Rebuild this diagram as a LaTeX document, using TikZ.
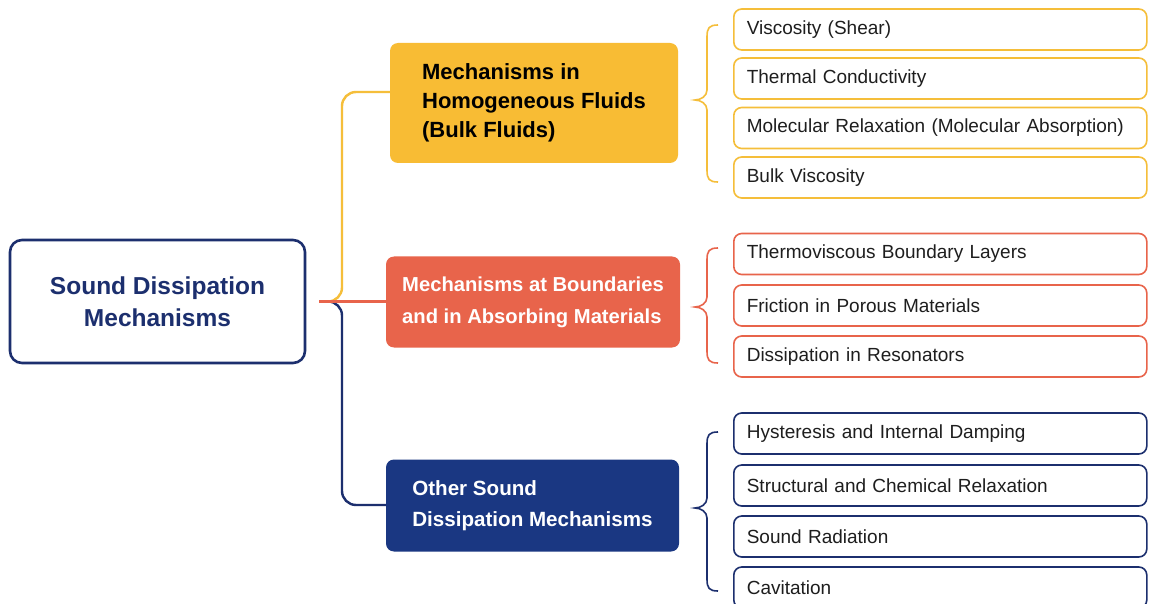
\documentclass[tikz,border=0pt]{standalone}
\usepackage{fontspec}
\setmainfont{Liberation Sans}
\definecolor{ylw}{HTML}{F8BC34}
\definecolor{ylwline}{HTML}{F5BE3A}
\definecolor{org}{HTML}{E8644B}
\definecolor{nvy}{HTML}{1A3782}
\definecolor{nvyline}{HTML}{1C2F6E}
\definecolor{leaftxt}{HTML}{1E1E1E}
\begin{document}
\begin{tikzpicture}[x=1pt,y=-1pt,
  root/.style={draw=nvyline, line width=2.6pt, rounded corners=12pt, fill=white,
    minimum width=295pt, minimum height=123pt, align=center, text=nvyline,
    font=\fontsize{24.5}{32}\selectfont\bfseries},
  grp/.style={rounded corners=8pt, align=left, inner sep=0pt},
  leaf/.style={draw, line width=1.6pt, rounded corners=8pt, fill=white, anchor=west,
    minimum width=413pt, minimum height=41pt, text width=387pt, inner xsep=12pt,
    align=left, text=leaftxt, font=\fontsize{19}{21}\selectfont},
  conn/.style={line width=2.4pt, rounded corners=14pt},
  brc/.style={line width=1.6pt}
]
\useasboundingbox (0,0) rectangle (1149,604);
\fill[white] (0,0) rectangle (1149,604);

% root
\node[root] (root) at (157.5,301.5) {Sound Dissipation\\Mechanisms};

% groups
\node[grp, fill=ylw, minimum width=288pt, minimum height=120pt, text=black,
  font=\fontsize{22}{29}\selectfont\bfseries] (g1) at (534,103)
  {Mechanisms in\\Homogeneous Fluids\\(Bulk Fluids)};
\node[grp, fill=org, minimum width=294pt, minimum height=91pt, text=white,
  font=\fontsize{20.2}{32}\selectfont\bfseries] (g2) at (533,302)
  {Mechanisms at Boundaries\\and in Absorbing Materials};
\node[grp, fill=nvy, minimum width=293pt, minimum height=92pt, text=white,
  font=\fontsize{20.6}{31}\selectfont\bfseries] (g3) at (532.5,505.5)
  {Other Sound\\Dissipation Mechanisms};

% connectors
\draw[conn, ylwline] (root.east) ++(13,0) -- (342,301.5) -- (342,92) -- (g1.west |- 0,92);
\draw[conn, nvyline] (root.east) ++(13,0) -- (342,301.5) -- (342,505) -- (g3.west |- 0,505);
\draw[line width=2.4pt, org] (root.east) ++(13,0) -- (g2.west |- 0,301.5);

% leaves
\node[leaf, draw=ylwline] (l11) at (733,29.5) {Viscosity (Shear)};
\node[leaf, draw=ylwline] (l12) at (733,78.5) {Thermal Conductivity};
\node[leaf, draw=ylwline] (l13) at (733,128) {Molecular Relaxation (Molecular Absorption)};
\node[leaf, draw=ylwline] (l14) at (733,177.5) {Bulk Viscosity};

\node[leaf, draw=org] (l21) at (733,254) {Thermoviscous Boundary Layers};
\node[leaf, draw=org] (l22) at (733,305.5) {Friction in Porous Materials};
\node[leaf, draw=org] (l23) at (733,356.5) {Dissipation in Resonators};

\node[leaf, draw=nvyline] (l31) at (733,433.5) {Hysteresis and Internal Damping};
\node[leaf, draw=nvyline] (l32) at (733,485.5) {Structural and Chemical Relaxation};
\node[leaf, draw=nvyline] (l33) at (733,536.5) {Sound Radiation};
\node[leaf, draw=nvyline] (l34) at (733,587.5) {Cavitation};

% braces
\newcommand{\mybrace}[4]{% color, top, mid, bottom
  \draw[brc, #1] (718,#2) .. controls (709,#2) and (707,#2+3) .. (707,#2+12)
    -- (707,#3-10) .. controls (707,#3-4) and (701,#3) .. (695,#3)
    .. controls (701,#3) and (707,#3+4) .. (707,#3+10)
    -- (707,#4-12) .. controls (707,#4-3) and (709,#4) .. (718,#4);}
\mybrace{ylwline}{25}{100}{182}
\mybrace{org}{248}{307}{363}
\mybrace{nvyline}{432}{508}{591}
\end{tikzpicture}
\end{document}
